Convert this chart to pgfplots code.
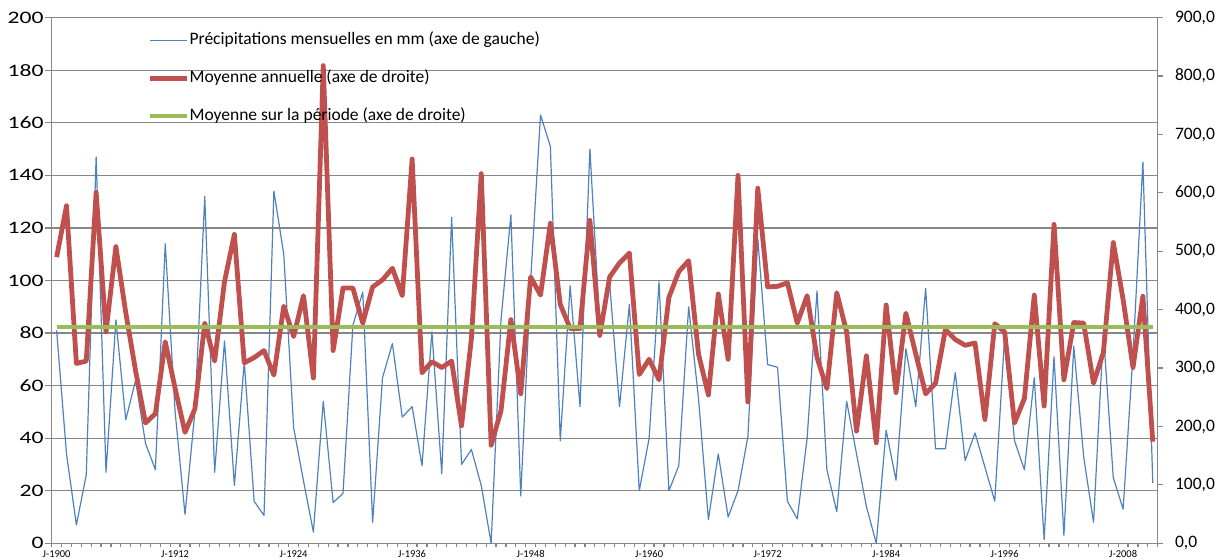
\documentclass[border=0pt]{standalone}
\usepackage{pgfplots}
\usepackage{pgfplotstable}
\pgfplotsset{compat=1.18}
\usepackage{fontspec}
\setmainfont{Carlito}
\newfontfamily\widefont[FakeStretch=1.35]{Carlito}
\definecolor{xblue}{HTML}{4F81BD}
\definecolor{xred}{HTML}{C0504D}
\definecolor{xgreen}{HTML}{9BBB59}
\definecolor{xgray}{HTML}{868686}

\pgfplotstableread{
year blue red
1900 81 490
1901 34 578
1902 7 308
1903 26 312
1904 147 601
1905 27 362
1906 85 508
1907 47 395
1908 62 295
1909 38 206
1910 28 222
1911 114 345
1912 50 265
1913 11 190
1914 50 230
1915 132 377
1916 27 312
1917 77 448
1918 22 529
1919 69 309
1920 16 318
1921 10.6 330
1922 134 288
1923 110 406
1924 44 354
1925 23.7 424
1926 4.3 283
1927 54 818
1928 15.5 330
1929 19 437
1930 83 437
1931 95.6 377
1932 8 439
1933 63 451
1934 76 471
1935 48 424
1936 52 658
1937 29.5 292
1938 80.5 311
1939 26.5 301
1940 124 312
1941 30 201
1942 35.7 350
1943 22 633
1944 0 168
1945 85 227
1946 125 383
1947 18 256
1948 100 456
1949 163 425
1950 151 548
1951 39 409
1952 98 368
1953 52 368
1954 150 553
1955 83 356
1956 98.8 456
1957 52 480
1958 91 497
1959 20 289
1960 40 315
1961 99.5 280
1962 20 421
1963 29.5 465
1964 90 484
1965 55 324
1966 9 254
1967 34 427
1968 10 315
1969 20 630
1970 40.6 242
1971 116 608
1972 68 439
1973 67 440
1974 16 446
1975 9.3 377
1976 40 424
1977 96 318
1978 28 265
1979 12 429
1980 54 362
1981 34 192
1982 14 321
1983 0 172
1984 43 408
1985 24 258
1986 74 394
1987 52 324
1988 97 256
1989 36 274
1990 36 366
1991 65 349
1992 31.5 339
1993 42 343
1994 29 212
1995 16 376
1996 79 362
1997 39 206
1998 28 248
1999 63 425
2000 1.4 235
2001 71 546
2002 3 280
2003 75 378
2004 33 377
2005 8 274
2006 80 327
2007 25 515
2008 13 417
2009 72 301
2010 145 423
2011 23 174
}\data

\pgfplotstableread{
year mean
1900 370
2011 370
}\periode

\begin{document}
\begin{tikzpicture}
\begin{axis}[name=ax1, scale only axis, width=553pt, height=262.8pt,
  xmin=1899.5, xmax=2011.5, ymin=0, ymax=200,
  axis x line*=bottom, axis y line*=left,
  axis line style={-, draw=xgray, line width=0.6pt},
  ytick={0,20,...,200},
  ymajorgrids, grid style={draw=xgray, line width=0.6pt},
  xtick={1900,1912,...,2008},
  xticklabels={J-1900,J-1912,J-1924,J-1936,J-1948,J-1960,J-1972,J-1984,J-1996,J-2008},
  minor xtick={1899.5,1900.5,...,2011.6},
  tick align=outside,
  major tick length=3.5pt, minor tick length=2pt,
  tick style={draw=xgray, line width=0.6pt},
  major x tick style={draw=none},
  /pgf/number format/assume math mode=true,
  yticklabel style={font=\widefont\fontsize{8.75}{10}\selectfont, inner sep=0pt, xshift=-0.4pt},
  xticklabel style={font=\fontsize{5.25}{6}\selectfont, inner sep=0pt},
]
\addplot[xblue, line width=0.6pt, line join=round] table[x=year, y=blue] {\data};
\end{axis}
\begin{axis}[scale only axis, width=553pt, height=262.8pt,
  xmin=1899.5, xmax=2011.5, ymin=0, ymax=900,
  axis x line=none, axis y line*=right,
  axis line style={-, draw=xgray, line width=0.6pt},
  ytick={0,100,...,900},
  tick align=outside, major tick length=2.5pt,
  tick style={draw=xgray, line width=0.6pt},
  /pgf/number format/assume math mode=true,
  yticklabel style={font=\fontsize{8.75}{10}\selectfont, inner sep=0pt, xshift=6pt,
    /pgf/number format/.cd, fixed, fixed zerofill, precision=1, use comma},
  legend style={at={(0.0865,0.972)}, anchor=north west, draw=none, fill=none,
    font=\fontsize{8.75}{10}\selectfont, row sep=11.4pt, inner sep=0pt,
    nodes={inner sep=0pt, text height=6pt, text depth=1.5pt},
    /tikz/every even column/.append style={column sep=1.5pt}},
  legend cell align=left,
  legend image code/.code={\draw[#1] (0pt,0pt) -- (18.5pt,0pt);},
]
\addlegendimage{xblue, line width=0.6pt}
\addlegendentry{Précipitations mensuelles en mm (axe de gauche)}
\addplot[xred, line width=2.4pt, line join=round] table[x=year, y=red] {\data};
\addlegendentry{Moyenne annuelle (axe de droite)}
\addplot[xgreen, line width=2pt] table[x=year, y=mean] {\periode};
\addlegendentry{Moyenne sur la période (axe de droite)}
\end{axis}
\pgfresetboundingbox
\path ([xshift=-25.85pt, yshift=-8.35pt]ax1.south west) rectangle ([xshift=33.65pt, yshift=8.85pt]ax1.north east);
\end{tikzpicture}
\end{document}
